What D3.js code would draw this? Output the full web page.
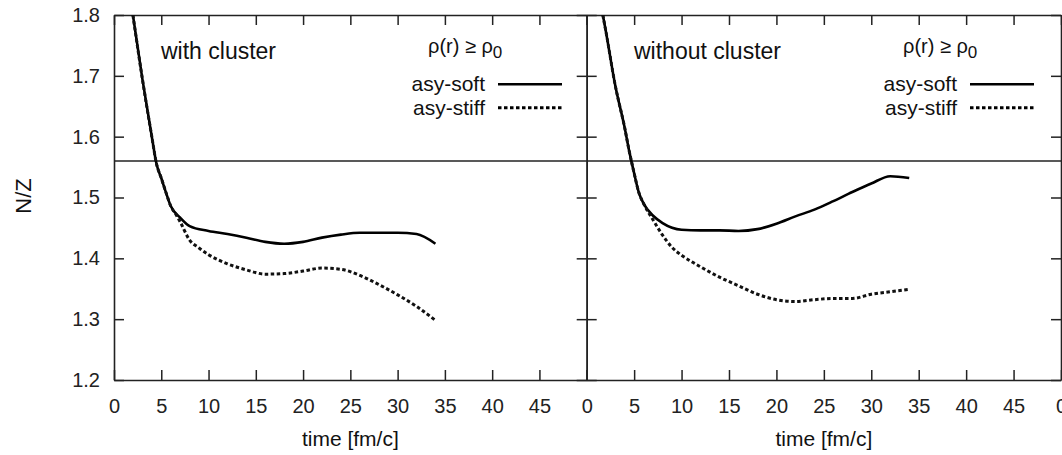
<!DOCTYPE html>
<html>
<head>
<meta charset="utf-8">
<script src="https://cdn.jsdelivr.net/npm/d3@7"></script>
<style>
  html, body { margin: 0; padding: 0; background: #fff; }
  svg { display: block; font-family: "Liberation Sans", Arial, Helvetica, sans-serif; }
</style>
</head>
<body>
<svg id="chart" width="1062" height="455"></svg>
<script>
// N/Z of the dense region (rho(r) >= rho_0) versus time, two scenarios.

// ---- data ----
const panelTitles = ["with cluster", "without cluster"];
const seriesNames = ["asy-soft", "asy-stiff"];
const referenceNZ = 1.56;

const xTickValues = [0, 5, 10, 15, 20, 25, 30, 35, 40, 45, 50];
const xTickLabels = ["0", "5", "10", "15", "20", "25", "30", "35", "40", "45", "0"];
const yTickValues = [1.2, 1.3, 1.4, 1.5, 1.6, 1.7, 1.8];

// with cluster
const timeWithSoft = [2, 3, 4, 4.5, 5, 5.5, 6, 7, 8, 10, 12, 14, 16, 18, 20, 22, 24, 26, 28, 30, 32, 34];
const nzWithSoft   = [1.80, 1.695, 1.60, 1.555, 1.532, 1.508, 1.486, 1.467, 1.453, 1.445, 1.440, 1.434, 1.427, 1.424, 1.427, 1.434, 1.439, 1.442, 1.442, 1.442, 1.440, 1.424];
const timeWithStiff = [2, 3, 4, 4.5, 5, 5.5, 6, 6.6, 7, 8, 9, 10, 12, 14, 16, 18, 20, 22, 24, 26, 28, 30, 32, 34];
const nzWithStiff   = [1.80, 1.695, 1.60, 1.555, 1.532, 1.508, 1.486, 1.471, 1.460, 1.430, 1.417, 1.406, 1.391, 1.381, 1.374, 1.375, 1.379, 1.384, 1.382, 1.372, 1.357, 1.340, 1.321, 1.298];

// without cluster
const timeWithoutSoft = [1.7, 2, 3, 4, 4.5, 5, 5.5, 6, 7, 8, 10, 12, 14, 16, 18, 20, 22, 24, 26, 28, 30, 32, 34];
const nzWithoutSoft   = [1.80, 1.775, 1.685, 1.615, 1.575, 1.540, 1.508, 1.490, 1.470, 1.458, 1.447, 1.446, 1.446, 1.445, 1.448, 1.457, 1.469, 1.480, 1.494, 1.509, 1.523, 1.535, 1.532];
const timeWithoutStiff = [1.7, 2, 3, 4, 4.5, 5, 5.5, 6, 7, 8, 9, 10, 11, 12, 14, 16, 18, 20, 22, 24, 26, 28, 30, 32, 34];
const nzWithoutStiff   = [1.80, 1.775, 1.685, 1.615, 1.575, 1.540, 1.508, 1.490, 1.463, 1.438, 1.418, 1.405, 1.395, 1.386, 1.369, 1.355, 1.341, 1.332, 1.329, 1.332, 1.334, 1.334, 1.341, 1.345, 1.349];

// ---- layout ----
const svg = d3.select("#chart");
const plotTop = 15, plotBottom = 380;
const panelLeft = [114, 586.7];
const panelRight = [586.7, 1061];

const y = d3.scaleLinear().domain([1.2, 1.8]).range([plotBottom, plotTop]);

const panels = [
  { title: panelTitles[0], x0: panelLeft[0], x1: panelRight[0],
    soft: d3.zip(timeWithSoft, nzWithSoft), stiff: d3.zip(timeWithStiff, nzWithStiff),
    yLabels: true, titleX: 161, legendX: 485, rhoX: 428 },
  { title: panelTitles[1], x0: panelLeft[1], x1: panelRight[1],
    soft: d3.zip(timeWithoutSoft, nzWithoutSoft), stiff: d3.zip(timeWithoutStiff, nzWithoutStiff),
    yLabels: false, titleX: 634, legendX: 957, rhoX: 903 }
];

const tickFont = 20;

panels.forEach((p, pi) => {
  const x = d3.scaleLinear().domain([0, 50]).range([p.x0, p.x1]);
  const g = svg.append("g");

  // clip region for the curves
  const clipId = "clip" + pi;
  svg.append("clipPath").attr("id", clipId)
    .append("rect").attr("x", p.x0).attr("y", plotTop)
    .attr("width", p.x1 - p.x0).attr("height", plotBottom - plotTop);

  // reference level
  g.append("line")
    .attr("x1", p.x0).attr("x2", p.x1)
    .attr("y1", y(referenceNZ)).attr("y2", y(referenceNZ))
    .attr("stroke", "#222").attr("stroke-width", 1.5);

  // axes
  const bottomAxis = d3.axisBottom(x).tickValues(xTickValues)
    .tickSizeInner(-10).tickSizeOuter(0).tickPadding(19)
    .tickFormat((d, i) => (pi === 0 && i === xTickValues.length - 1) ? "" : xTickLabels[i]);
  const topAxis = d3.axisTop(x).tickValues(xTickValues)
    .tickSizeInner(-10).tickSizeOuter(0).tickFormat("");
  const leftAxis = d3.axisLeft(y).tickValues(yTickValues)
    .tickSizeInner(-10).tickSizeOuter(0).tickPadding(14)
    .tickFormat(p.yLabels ? d3.format(".1f") : () => "");
  const rightAxis = d3.axisRight(y).tickValues(yTickValues)
    .tickSizeInner(-10).tickSizeOuter(0).tickFormat("");

  const axes = [
    g.append("g").attr("transform", `translate(0,${plotBottom})`).call(bottomAxis),
    g.append("g").attr("transform", `translate(0,${plotTop})`).call(topAxis),
    g.append("g").attr("transform", `translate(${p.x0},0)`).call(leftAxis),
    g.append("g").attr("transform", `translate(${p.x1},0)`).call(rightAxis)
  ];
  axes.forEach(a => {
    a.selectAll(".domain").attr("stroke", "#222").attr("stroke-width", 1.6);
    a.selectAll(".tick line").attr("stroke", "#222").attr("stroke-width", 1.5);
    a.selectAll(".tick text").attr("fill", "#222").attr("font-size", tickFont)
      .attr("font-family", "Liberation Sans, Arial, sans-serif");
  });

  // curves
  const line = d3.line().x(d => x(d[0])).y(d => y(d[1])).curve(d3.curveMonotoneX);
  const curves = g.append("g").attr("clip-path", `url(#${clipId})`);
  curves.append("path").datum(p.soft).attr("d", line)
    .attr("fill", "none").attr("stroke", "#000").attr("stroke-width", 2.6)
    .attr("stroke-linejoin", "round");
  curves.append("path").datum(p.stiff).attr("d", line)
    .attr("fill", "none").attr("stroke", "#111").attr("stroke-width", 3)
    .attr("stroke-dasharray", "3.5,2.5");

  // panel title
  g.append("text").attr("x", p.titleX).attr("y", 59)
    .attr("font-size", 23).attr("fill", "#111").text(p.title);

  // density condition label
  const rho = g.append("text").attr("x", p.rhoX).attr("y", 53)
    .attr("font-size", 20).attr("fill", "#111");
  rho.append("tspan").text("\u03C1(r) \u2265 \u03C1");
  rho.append("tspan").attr("dy", 5).attr("font-size", 17).text("0");

  // legend
  const legendRows = [
    { name: seriesNames[0], y: 84.3, dash: null, w: 2.6 },
    { name: seriesNames[1], y: 107.7, dash: "3.5,2.5", w: 3 }
  ];
  legendRows.forEach(r => {
    g.append("text").attr("x", p.legendX).attr("y", r.y + 7)
      .attr("text-anchor", "end").attr("font-size", 21).attr("fill", "#111").text(r.name);
    g.append("line")
      .attr("x1", p.legendX + 13).attr("x2", p.legendX + 77)
      .attr("y1", r.y).attr("y2", r.y)
      .attr("stroke", "#000").attr("stroke-width", r.w)
      .attr("stroke-dasharray", r.dash);
  });

  // x axis title
  g.append("text").attr("x", (p.x0 + p.x1) / 2).attr("y", 446)
    .attr("text-anchor", "middle").attr("font-size", 21).attr("fill", "#111")
    .text("time [fm/c]");
});

// y axis title
svg.append("text")
  .attr("transform", "translate(31,196) rotate(-90)")
  .attr("text-anchor", "middle").attr("font-size", 22).attr("fill", "#111")
  .text("N/Z");
</script>
</body>
</html>
